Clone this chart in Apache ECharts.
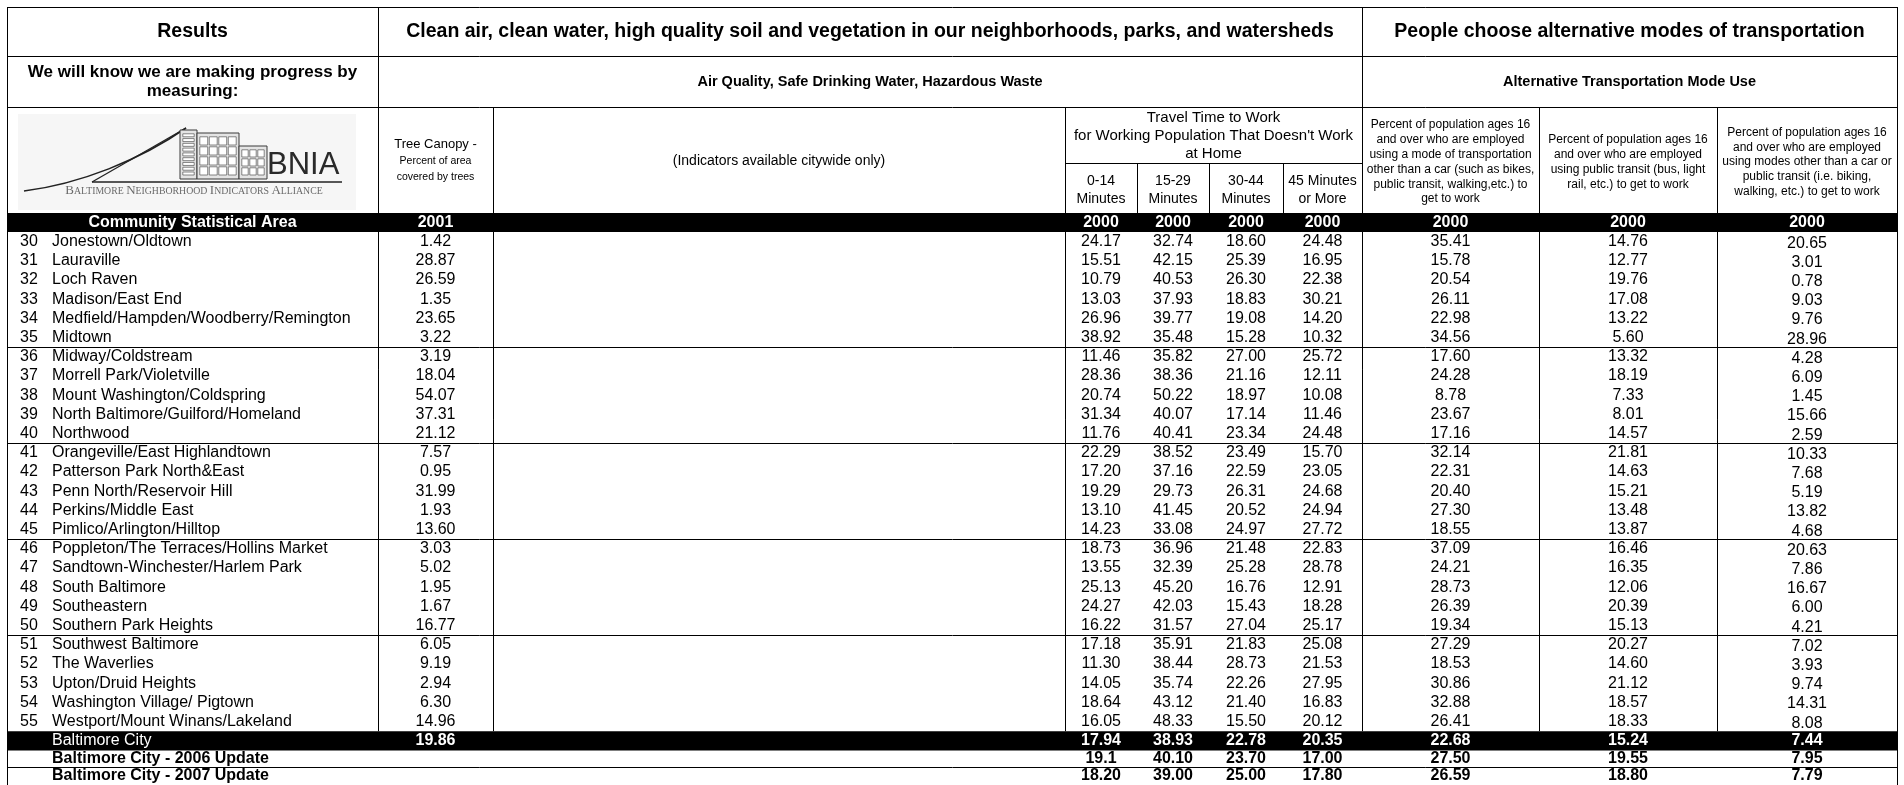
<!DOCTYPE html>
<html><head><meta charset="utf-8">
<script src="https://cdn.jsdelivr.net/npm/echarts@6/dist/echarts.min.js"></script>
<style>html,body{margin:0;padding:0;background:#fff}#c{width:1904px;height:785px}</style>
</head><body><div id="c"></div>
<script>
// ---------------- DATA ----------------
const titleResults = 'Results';
const titleEnv = 'Clean air, clean water, high quality soil and vegetation in our neighborhoods, parks, and watersheds';
const titleTransport = 'People choose alternative modes of transportation';
const measuringLines = ['We will know we are making progress by', 'measuring:'];
const envSubtitle = 'Air Quality, Safe Drinking Water, Hazardous Waste';
const transportSubtitle = 'Alternative Transportation Mode Use';
const treeHeader = ['Tree Canopy -', 'Percent of area', 'covered by trees'];
const citywideNote = '(Indicators available citywide only)';
const travelHeader = ['Travel Time to Work', "for Working Population That Doesn't Work", 'at Home'];
const travelBands = [['0-14', 'Minutes'], ['15-29', 'Minutes'], ['30-44', 'Minutes'], ['45 Minutes', 'or More']];
const altHeaders = [
  ['Percent of population ages 16', 'and over who are employed', 'using a mode of transportation', 'other than a car (such as bikes,', 'public transit, walking,etc.) to', 'get to work'],
  ['Percent of population ages 16', 'and over who are employed', 'using public transit (bus, light', 'rail, etc.) to get to work'],
  ['Percent of population ages 16', 'and over who are employed', 'using modes other than a car or', 'public transit (i.e. biking,', 'walking, etc.) to get to work']
];
const barLabel = 'Community Statistical Area';
const yearLabels = ['2001', '2000', '2000', '2000', '2000', '2000', '2000', '2000'];
const logoWord = 'BNIA';
const logoSubtitleWords = ['Baltimore', 'Neighborhood', 'Indicators', 'Alliance'];

const csaIds = [30,31,32,33,34,35,36,37,38,39,40,41,42,43,44,45,46,47,48,49,50,51,52,53,54,55];
const csaNames = ['Jonestown/Oldtown','Lauraville','Loch Raven','Madison/East End','Medfield/Hampden/Woodberry/Remington','Midtown',
  'Midway/Coldstream','Morrell Park/Violetville','Mount Washington/Coldspring','North Baltimore/Guilford/Homeland','Northwood',
  'Orangeville/East Highlandtown','Patterson Park North&East','Penn North/Reservoir Hill','Perkins/Middle East','Pimlico/Arlington/Hilltop',
  'Poppleton/The Terraces/Hollins Market','Sandtown-Winchester/Harlem Park','South Baltimore','Southeastern','Southern Park Heights',
  'Southwest Baltimore','The Waverlies','Upton/Druid Heights','Washington Village/ Pigtown','Westport/Mount Winans/Lakeland'];
const treeCanopy2001 = ['1.42','28.87','26.59','1.35','23.65','3.22','3.19','18.04','54.07','37.31','21.12','7.57','0.95','31.99','1.93','13.60','3.03','5.02','1.95','1.67','16.77','6.05','9.19','2.94','6.30','14.96'];
const travel0to14 = ['24.17','15.51','10.79','13.03','26.96','38.92','11.46','28.36','20.74','31.34','11.76','22.29','17.20','19.29','13.10','14.23','18.73','13.55','25.13','24.27','16.22','17.18','11.30','14.05','18.64','16.05'];
const travel15to29 = ['32.74','42.15','40.53','37.93','39.77','35.48','35.82','38.36','50.22','40.07','40.41','38.52','37.16','29.73','41.45','33.08','36.96','32.39','45.20','42.03','31.57','35.91','38.44','35.74','43.12','48.33'];
const travel30to44 = ['18.60','25.39','26.30','18.83','19.08','15.28','27.00','21.16','18.97','17.14','23.34','23.49','22.59','26.31','20.52','24.97','21.48','25.28','16.76','15.43','27.04','21.83','28.73','22.26','21.40','15.50'];
const travel45plus = ['24.48','16.95','22.38','30.21','14.20','10.32','25.72','12.11','10.08','11.46','24.48','15.70','23.05','24.68','24.94','27.72','22.83','28.78','12.91','18.28','25.17','25.08','21.53','27.95','16.83','20.12'];
const altNonCar = ['35.41','15.78','20.54','26.11','22.98','34.56','17.60','24.28','8.78','23.67','17.16','32.14','22.31','20.40','27.30','18.55','37.09','24.21','28.73','26.39','19.34','27.29','18.53','30.86','32.88','26.41'];
const altTransit = ['14.76','12.77','19.76','17.08','13.22','5.60','13.32','18.19','7.33','8.01','14.57','21.81','14.63','15.21','13.48','13.87','16.46','16.35','12.06','20.39','15.13','20.27','14.60','21.12','18.57','18.33'];
const altOther = ['20.65','3.01','0.78','9.03','9.76','28.96','4.28','6.09','1.45','15.66','2.59','10.33','7.68','5.19','13.82','4.68','20.63','7.86','16.67','6.00','4.21','7.02','3.93','9.74','14.31','8.08'];

const cityLabels = ['Baltimore City', 'Baltimore City - 2006 Update', 'Baltimore City - 2007 Update'];
const cityTree = ['19.86', '', ''];
const city0to14 = ['17.94', '19.1', '18.20'];
const city15to29 = ['38.93', '40.10', '39.00'];
const city30to44 = ['22.78', '23.70', '25.00'];
const city45plus = ['20.35', '17.00', '17.80'];
const cityNonCar = ['22.68', '27.50', '26.59'];
const cityTransit = ['15.24', '19.55', '18.80'];
const cityOther = ['7.44', '7.95', '7.79'];

// ---------------- LAYOUT ----------------
const W = 1904, H = 785;
const X = { left: 7, results: 378, tree: 493, ind: 1065, t1: 1137, t2: 1209, t3: 1283, travel: 1362, a1: 1539, a2: 1717, right: 1897 };
const Y = { top: 7, r1: 56, r2: 107, sub: 163, barTop: 213, barBot: 232, pitch: 19.2 };
const FONT = "'Liberation Sans', Arial, Helvetica, sans-serif";
const mid = (a, b) => (a + b) / 2;
const valueCols = [mid(X.results, X.tree), mid(X.ind, X.t1), mid(X.t1, X.t2), mid(X.t2, X.t3), mid(X.t3, X.travel), mid(X.travel, X.a1), mid(X.a1, X.a2), mid(X.a2, X.right)];
const rowCenter = i => Y.barBot + Y.pitch * (i + 0.5);
const nRows = csaIds.length;
const cityTop = Y.barBot + Y.pitch * nRows;
const cityBot = cityTop + Y.pitch;
const updLine = 767;
const cityCenters = [mid(cityTop, cityBot), mid(cityBot, updLine), mid(updLine, H)];

// ---------------- CELLS ----------------
const cells = [];
function cell(x, y, text, o) { cells.push(Object.assign({ x, y, text, size: 16, weight: 'normal', color: '#000', align: 'center' }, o || {})); }

cell(mid(X.left, X.results), 31.5, titleResults, { size: 19.5, weight: 'bold' });
cell(mid(X.results, X.travel), 31.5, titleEnv, { size: 19.5, weight: 'bold' });
cell(mid(X.travel, X.right), 31.5, titleTransport, { size: 19.5, weight: 'bold' });
measuringLines.forEach((t, k) => cell(mid(X.left, X.results), 72 + 19 * k, t, { size: 17, weight: 'bold' }));
cell(mid(X.results, X.travel), 81.5, envSubtitle, { size: 14.5, weight: 'bold' });
cell(mid(X.travel, X.right), 81.5, transportSubtitle, { size: 14.5, weight: 'bold' });
cell(valueCols[0], 144, treeHeader[0], { size: 13 });
cell(valueCols[0], 161.5, treeHeader[1], { size: 10.5 });
cell(valueCols[0], 177.5, treeHeader[2], { size: 10.5 });
cell(mid(X.tree, X.ind), 161, citywideNote, { size: 14 });
travelHeader.forEach((t, k) => cell(mid(X.ind, X.travel), 118 + 18 * k, t, { size: 15 }));
travelBands.forEach((b, j) => b.forEach((t, k) => cell(valueCols[1 + j], 181 + 18.5 * k, t, { size: 14 })));
altHeaders.forEach((lines, j) => {
  const lh = 14.8, c0 = 162 - (lines.length - 1) * lh / 2;
  lines.forEach((t, k) => cell(valueCols[5 + j], c0 + lh * k, t, { size: 12 }));
});
cell(mid(X.left, X.results), mid(Y.barTop, Y.barBot), barLabel, { weight: 'bold', color: '#fff' });
yearLabels.forEach((t, j) => cell(valueCols[j], mid(Y.barTop, Y.barBot), t, { weight: 'bold', color: '#fff' }));
const valueArrays = [treeCanopy2001, travel0to14, travel15to29, travel30to44, travel45plus, altNonCar, altTransit, altOther];
csaIds.forEach((id, i) => {
  const y = rowCenter(i);
  cell(20, y, String(id), { align: 'left' });
  cell(52, y, csaNames[i], { align: 'left' });
  valueArrays.forEach((arr, j) => cell(valueCols[j], y + (j === 7 ? 1.5 : 0), arr[i]));
});
const cityArrays = [cityTree, city0to14, city15to29, city30to44, city45plus, cityNonCar, cityTransit, cityOther];
cityLabels.forEach((lab, r) => {
  const y = cityCenters[r];
  const col = r === 0 ? '#fff' : '#000';
  cell(52, y, lab, { align: 'left', color: col, weight: r === 0 ? 'normal' : 'bold' });
  cityArrays.forEach((arr, j) => { if (arr[r]) cell(valueCols[j], y, arr[r], { color: col, weight: 'bold' }); });
});

// ---------------- RULES & FILLS ----------------
const hLines = [
  [X.left, Y.top, X.right], [X.left, Y.r1, X.right], [X.left, Y.r2, X.right], [X.ind, Y.sub, X.travel],
  [X.left, Y.barBot + Y.pitch * 6, X.right], [X.left, Y.barBot + Y.pitch * 11, X.right],
  [X.left, Y.barBot + Y.pitch * 16, X.right], [X.left, Y.barBot + Y.pitch * 21, X.right],
  [X.left, updLine, X.right]
];
const vLines = [
  [X.left, Y.top, H], [X.right, Y.top, H], [X.results, Y.top, cityTop], [X.travel, Y.top, cityTop],
  [X.tree, Y.r2, cityTop], [X.ind, Y.r2, cityTop], [X.a1, Y.r2, cityTop], [X.a2, Y.r2, cityTop],
  [X.t1, Y.sub, Y.barTop], [X.t2, Y.sub, Y.barTop], [X.t3, Y.sub, Y.barTop]
];
const ruleData = hLines.map(l => [l[0], l[1], l[2], l[1]]).concat(vLines.map(l => [l[0], l[1], l[0], l[2]]));
const fillData = [[X.left, Y.barTop, X.right + 1, Y.barBot], [X.left, cityTop, X.right + 1, cityBot]];

// ---------------- LOGO (graphic) ----------------
function building(x, y, w, h, cols, rows) {
  const els = [{ type: 'rect', shape: { x, y, width: w, height: h }, style: { fill: '#e4e4e4', stroke: '#3a3a3a', lineWidth: 1 } }];
  const cw = (w - 4) / cols, rh = (h - 6) / rows;
  for (let r = 0; r < rows; r++) for (let c = 0; c < cols; c++) {
    els.push({ type: 'rect', shape: { x: x + 2 + c * cw + 0.8, y: y + 3 + r * rh + 0.8, width: cw - 1.6, height: rh - 1.8 }, style: { fill: '#fff', stroke: '#555', lineWidth: 0.7 } });
  }
  return els;
}
const subtitleText = logoSubtitleWords.map(w => '{b|' + w[0].toUpperCase() + '}{s|' + w.slice(1).toUpperCase() + '}').join('{s| }');
const logo = [
  { type: 'rect', shape: { x: 18, y: 114, width: 338, height: 96 }, style: { fill: '#f6f6f6' } },
  { type: 'bezierCurve', shape: { x1: 24, y1: 191, cpx1: 80, cpy1: 184, cpx2: 140, cpy2: 160, x2: 186, y2: 128 }, style: { stroke: '#222', lineWidth: 1.6, fill: null } },
  { type: 'line', shape: { x1: 92, y1: 182, x2: 186, y2: 128 }, style: { stroke: '#222', lineWidth: 1.3 } },
  { type: 'line', shape: { x1: 92, y1: 182, x2: 342, y2: 182 }, style: { stroke: '#222', lineWidth: 1.3 } }
].concat(building(180, 130, 17, 49, 1, 9), building(197, 133, 42, 46, 4, 4), building(239, 146, 28, 33, 3, 3), [
  { type: 'text', x: 267, y: 165, style: { text: logoWord, fontSize: 31, fontWeight: 300, fontFamily: FONT, fill: '#2a2a2a', verticalAlign: 'middle' } },
  { type: 'text', x: 194, y: 191, style: { text: subtitleText, align: 'center', verticalAlign: 'middle',
      rich: { b: { fontSize: 13, fontFamily: "'Liberation Serif', serif", fill: '#6a6a6a' }, s: { fontSize: 9.8, fontFamily: "'Liberation Serif', serif", fill: '#6a6a6a' } } } }
]);

// ---------------- CHART ----------------
const chart = echarts.init(document.getElementById('c'), null, { renderer: 'canvas' });
chart.setOption({
  animation: false,
  backgroundColor: '#fff',
  grid: { left: 0, right: 0, top: 0, bottom: 0 },
  xAxis: { type: 'value', min: 0, max: W, show: false },
  yAxis: { type: 'value', min: 0, max: H, inverse: true, show: false },
  graphic: { elements: logo.map(e => Object.assign({ silent: true, z: 1 }, e)) },
  series: [
    {
      type: 'custom', z: 1, silent: true, data: fillData,
      renderItem: (p, api) => {
        const a = api.coord([api.value(0), api.value(1)]), b = api.coord([api.value(2), api.value(3)]);
        return { type: 'rect', shape: { x: a[0], y: a[1], width: b[0] - a[0], height: b[1] - a[1] }, style: { fill: '#000' } };
      }
    },
    {
      type: 'custom', z: 2, silent: true, data: ruleData,
      renderItem: (p, api) => {
        const a = api.coord([api.value(0), api.value(1)]), b = api.coord([api.value(2), api.value(3)]);
        const sx = v => Math.round(v) + 0.5;
        const horiz = Math.abs(a[1] - b[1]) < 0.01;
        return { type: 'line', shape: horiz ? { x1: a[0], y1: sx(a[1]), x2: b[0] + 1, y2: sx(b[1]) } : { x1: sx(a[0]), y1: a[1], x2: sx(b[0]), y2: b[1] }, style: { stroke: '#000', lineWidth: 1 } };
      }
    },
    {
      type: 'custom', z: 3, silent: true, data: cells.map(c => [c.x, c.y]),
      renderItem: (p, api) => {
        const c = cells[p.dataIndex];
        const pt = api.coord([api.value(0), api.value(1)]);
        return { type: 'text', x: pt[0], y: pt[1], style: { text: c.text, fill: c.color, fontSize: c.size, fontWeight: c.weight, fontFamily: FONT, align: c.align, verticalAlign: 'middle' } };
      }
    }
  ]
});
</script>
</body></html>
